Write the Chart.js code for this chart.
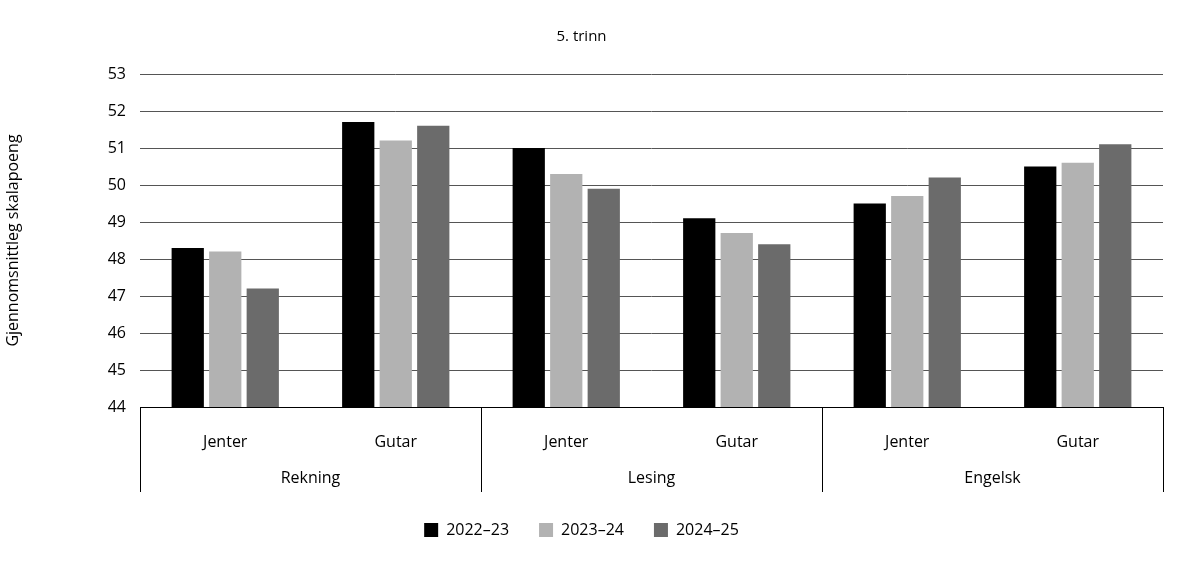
<!DOCTYPE html>
<html>
<head>
<meta charset="utf-8">
<script src="https://cdn.jsdelivr.net/npm/chart.js@4"></script>
<style>
  html, body { margin: 0; padding: 0; background: #fff; }
  #wrap { width: 1198px; height: 568px; }
</style>
</head>
<body>
<div id="wrap"><canvas id="c" width="1198" height="568"></canvas></div>
<script>
const subgroups = ['Jenter', 'Gutar', 'Jenter', 'Gutar', 'Jenter', 'Gutar'];
const groups = ['Rekning', 'Lesing', 'Engelsk'];
const years = ['2022–23', '2023–24', '2024–25'];
const values2022 = [48.3, 51.7, 51.0, 49.1, 49.5, 50.5];
const values2023 = [48.2, 51.2, 50.3, 48.7, 49.7, 50.6];
const values2024 = [47.2, 51.6, 49.9, 48.4, 50.2, 51.1];
const colors = ['#000000', '#b2b2b2', '#6b6b6b'];

const FONT = '"Open Sans", "Noto Sans", sans-serif';

// egne gruppeetiketter og skillelinjer under x-aksen
const groupAxis = {
  id: 'groupAxis',
  afterDraw(chart) {
    const ctx = chart.ctx, x = chart.scales.x, area = chart.chartArea;
    const per = subgroups.length / groups.length;
    const bottom = area.bottom + 85;
    ctx.save();
    ctx.strokeStyle = '#000';
    ctx.lineWidth = 1;
    for (let g = 0; g <= groups.length; g++) {
      const px = Math.round(area.left + (area.right - area.left) * g / groups.length) + 0.5;
      ctx.beginPath();
      ctx.moveTo(px, area.bottom);
      ctx.lineTo(px, bottom);
      ctx.stroke();
    }
    ctx.fillStyle = '#000';
    ctx.font = '16px ' + FONT;
    ctx.textAlign = 'center';
    ctx.textBaseline = 'middle';
    groups.forEach((g, i) => {
      const cx = (x.getPixelForValue(i * per) + x.getPixelForValue(i * per + per - 1)) / 2;
      ctx.fillText(g, cx, area.bottom + 71);
    });
    ctx.restore();
  }
};

new Chart(document.getElementById('c'), {
  type: 'bar',
  data: {
    labels: subgroups,
    datasets: [
      { label: years[0], data: values2022, backgroundColor: colors[0] },
      { label: years[1], data: values2023, backgroundColor: colors[1] },
      { label: years[2], data: values2024, backgroundColor: colors[2] }
    ]
  },
  options: {
    responsive: false,
    animation: false,
    datasets: { bar: { categoryPercentage: 0.66, barPercentage: 0.86 } },
    layout: { padding: { top: 20, right: 35, bottom: 20, left: 0 } },
    plugins: {
      title: {
        display: true, text: '5. trinn', color: '#000',
        font: { family: FONT, size: 15, weight: 'normal' },
        padding: { top: 8, bottom: 28 }
      },
      legend: {
        position: 'bottom',
        labels: {
          color: '#000', boxWidth: 14, boxHeight: 14, padding: 30,
          font: { family: FONT, size: 16 }
        }
      },
      tooltip: { enabled: false }
    },
    scales: {
      y: {
        min: 44, max: 53,
        ticks: { stepSize: 1, color: '#000', font: { family: FONT, size: 16 }, padding: 14 },
        grid: { color: '#555', drawTicks: false },
        border: { display: false },
        title: {
          display: true, text: 'Gjennomsnittleg skalapoeng', color: '#000',
          font: { family: FONT, size: 16 }, padding: { bottom: 20 }
        },
        afterFit(s) { s.width = 140; }
      },
      x: {
        ticks: { color: '#000', font: { family: FONT, size: 16 }, padding: 18, maxRotation: 0 },
        grid: { display: false },
        border: { color: '#000', width: 1 },
        afterFit(s) { s.height = 85; }
      }
    }
  },
  plugins: [groupAxis]
});
</script>
</body>
</html>
